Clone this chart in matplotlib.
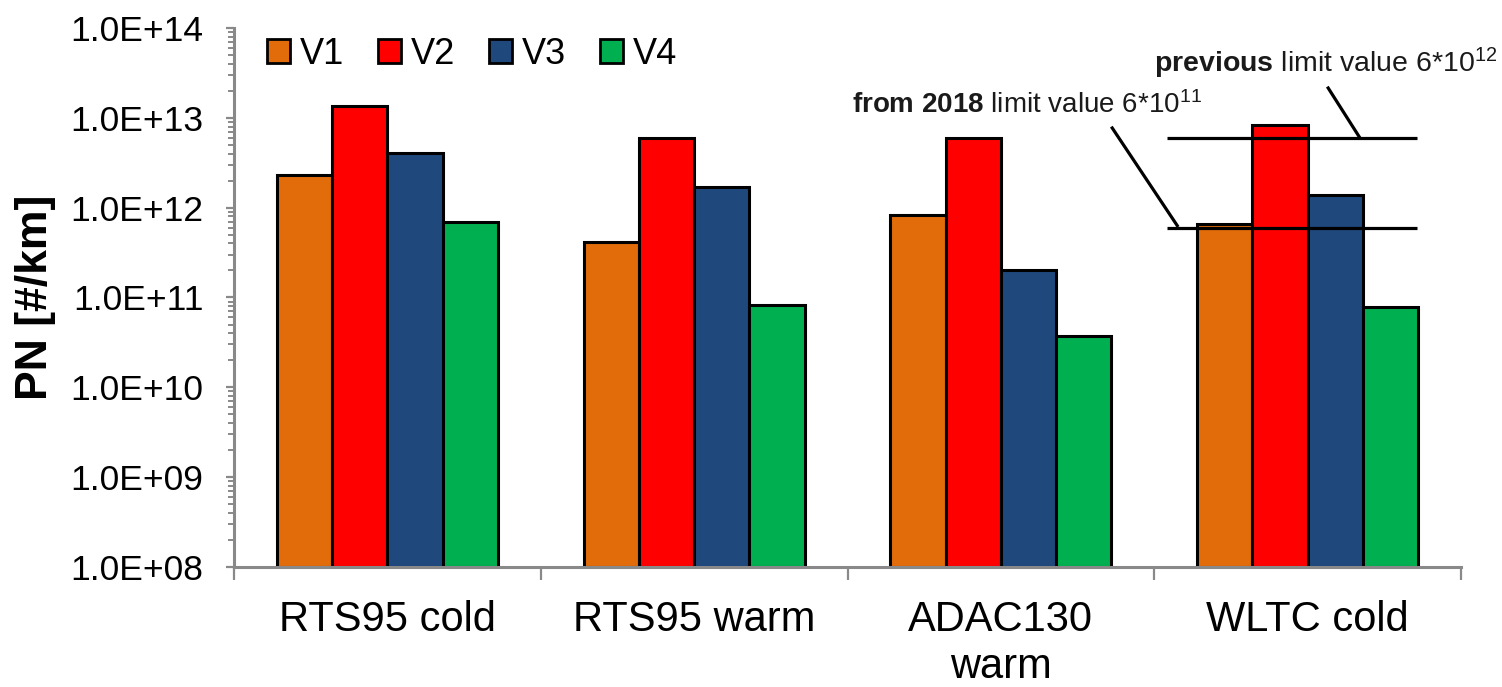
import matplotlib
matplotlib.use("Agg")
import matplotlib.pyplot as plt
import numpy as np
from matplotlib.ticker import LogLocator, FuncFormatter, FixedLocator, NullFormatter

plt.rcParams['font.family'] = ['Liberation Sans', 'DejaVu Sans']
plt.rcParams['mathtext.fontset'] = 'custom'
plt.rcParams['mathtext.rm'] = 'Liberation Sans'
plt.rcParams['mathtext.bf'] = 'Liberation Sans:bold'
plt.rcParams['mathtext.it'] = 'Liberation Sans:italic'

categories = ["RTS95 cold", "RTS95 warm", "ADAC130\nwarm", "WLTC cold"]
series_names = ["V1", "V2", "V3", "V4"]
V1 = [2.3e12, 4.2e11, 8.2e11, 6.6e11]
V2 = [1.35e13, 6.0e12, 6.0e12, 8.3e12]
V3 = [4.1e12, 1.7e12, 2.0e11, 1.38e12]
V4 = [6.9e11, 8.3e10, 3.7e10, 7.8e10]
colors = ["#E36C0A", "#FF0000", "#1F497D", "#00B050"]
limit_new = 6e11
limit_prev = 6e12

fig = plt.figure(figsize=(15.02, 6.87), dpi=100)
ax = fig.add_axes([234/1502, 1 - 567/687, (1461-234)/1502, (567-28)/687])
ax.set_yscale('log')
ax.set_ylim(1e8, 1e14)
ax.set_xlim(-0.5, 3.5)

w = 0.18
x = np.arange(len(categories))
for j, (vals, c, name) in enumerate(zip([V1, V2, V3, V4], colors, series_names)):
    vals = np.array(vals)
    ax.bar(x + (j - 1.5) * w, vals - 1e8, bottom=1e8, width=w, color=c,
           edgecolor='black', linewidth=2.2, label=name, zorder=2)

# limit lines over WLTC group
ax.hlines([limit_new, limit_prev], 2.542, 3.357, color='black', lw=2.3, zorder=4)

# leader lines
ax.plot([3.067, 3.168], [10**13.332, 10**12.79], color='black', lw=2.3, clip_on=False, zorder=4)
ax.plot([2.363, 2.575], [10**12.887, 10**11.80], color='black', lw=2.3, clip_on=False, zorder=4)

ax.text(3.617, 10**13.61, r"$\mathbf{previous}$ limit value 6*10$^{12}$", ha='right', va='center',
        fontsize=20.5, clip_on=False, color='#1a1a1a')
ax.text(2.656, 10**13.143, r"$\mathbf{from\ 2018}$ limit value 6*10$^{11}$", ha='right', va='center',
        fontsize=20, clip_on=False, color='#1a1a1a')

# axes styling
gray = '#898989'
for s in ['top', 'right']:
    ax.spines[s].set_visible(False)
for s in ['left', 'bottom']:
    ax.spines[s].set_color(gray)
    ax.spines[s].set_linewidth(2.2)

ax.yaxis.set_major_locator(LogLocator(base=10, numticks=10))
ax.yaxis.set_minor_locator(LogLocator(base=10, subs=np.arange(2, 10), numticks=20))
ax.yaxis.set_major_formatter(FuncFormatter(lambda v, p: f"{v:.1E}"))
ax.yaxis.set_minor_formatter(NullFormatter())
ax.tick_params(axis='y', which='major', length=6, width=1.6, color=gray, labelsize=25.5, pad=16)
ax.tick_params(axis='y', which='minor', length=4, width=1.4, color=gray)

ax.xaxis.set_major_locator(FixedLocator([-0.5, 0.5, 1.5, 2.5, 3.5]))
ax.xaxis.set_major_formatter(NullFormatter())
ax.xaxis.set_minor_locator(FixedLocator(x))
ax.set_xticklabels(categories, minor=True)
ax.tick_params(axis='x', which='major', length=9, width=1.6, color=gray)
ax.tick_params(axis='x', which='minor', length=0, labelsize=30, pad=24)
for lbl in ax.get_xticklabels(minor=True):
    lbl.set_linespacing(1.2)

ax.set_ylabel("PN [#/km]", fontsize=32, fontweight='bold')
ax.yaxis.set_label_coords(-0.145, 0.5)

leg = ax.legend(loc='center left', bbox_to_anchor=(0.027, 0.951), ncol=4, frameon=False,
                fontsize=26, handlelength=0.62, handleheight=0.62, handletextpad=0.28,
                columnspacing=0.95, borderpad=0, borderaxespad=0)
for h in leg.legend_handles:
    h.set_linewidth(2.0)

fig.savefig("out.png", dpi=100)
